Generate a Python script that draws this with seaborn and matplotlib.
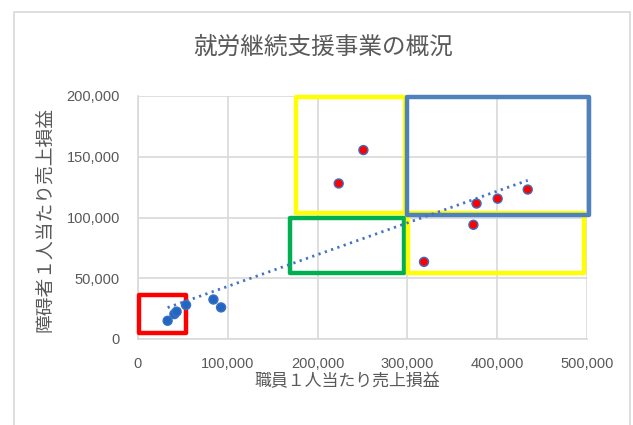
import matplotlib
matplotlib.use("Agg")
import matplotlib.pyplot as plt
from matplotlib.patches import Rectangle
from matplotlib.ticker import FuncFormatter, MultipleLocator
import seaborn as sns
import pandas as pd

# ---- data ----
staff_sales = [33000, 40500, 43000, 53500, 84000, 92500,
               251000, 223500, 377000, 400500, 434000, 373500, 318500]
disabled_sales = [15000, 20500, 22500, 28000, 32500, 26000,
                  155500, 128000, 111500, 115500, 123000, 94000, 63500]
group = ["low"] * 6 + ["high"] * 7

title = "就労継続支援事業の概況"
xlabel = "職員１人当たり売上損益"
ylabel = "障碍者１人当たり売上損益"

# highlight boxes: (x0, y0, x1, y1, colour)
box_x0 = [176000, 169000, 300500, 800, 299500]
box_y0 = [103500, 54500, 54500, 5000, 102000]
box_x1 = [297000, 296500, 496500, 54000, 502000]
box_y1 = [199500, 99800, 103500, 36000, 199500]
box_colors = ["#FFFF00", "#00B050", "#FFFF00", "#FF0000", "#4F81BD"]

df = pd.DataFrame({"x": staff_sales, "y": disabled_sales, "g": group})

sns.set_theme(style="white")
plt.rcParams["font.family"] = ["Noto Sans CJK JP", "DejaVu Sans"]

fig = plt.figure(figsize=(6.33, 4.25), dpi=100)
ax = fig.add_axes([138 / 633, 1 - 339 / 425, 449 / 633, 243 / 425])

txt = "#595959"
grid_c = "#D9D9D9"

# boxes
for x0, y0, x1, y1, c in zip(box_x0, box_y0, box_x1, box_y1, box_colors):
    ax.add_patch(Rectangle((x0, y0), x1 - x0, y1 - y0, fill=False,
                           edgecolor=c, linewidth=3.2, clip_on=False,
                           zorder=4, joinstyle="round"))

# trend line over all points
sns.regplot(data=df, x="x", y="y", ax=ax, scatter=False, ci=None,
            truncate=True,
            line_kws=dict(color="#4472C4", linewidth=2,
                          linestyle=(0, (0.8, 1.6)), zorder=5))

sns.scatterplot(data=df, x="x", y="y", hue="g", ax=ax,
                palette={"low": "#2266C4", "high": "#FF0000"},
                edgecolor="#3B6FC0", linewidth=1.0, s=42, legend=False,
                zorder=6)

ax.set_xlim(0, 500000)
ax.set_ylim(0, 200000)
ax.xaxis.set_major_locator(MultipleLocator(100000))
ax.yaxis.set_major_locator(MultipleLocator(50000))
fmt = FuncFormatter(lambda v, p: f"{int(v):,}")
ax.xaxis.set_major_formatter(fmt)
ax.yaxis.set_major_formatter(fmt)
ax.grid(True, color=grid_c, linewidth=1.2)
ax.set_axisbelow(True)
for s in ["top", "right"]:
    ax.spines[s].set_visible(False)
for s in ["left", "bottom"]:
    ax.spines[s].set_color(grid_c)
    ax.spines[s].set_linewidth(1.2)
ax.tick_params(axis="both", length=0, colors=txt, labelsize=10.5)
ax.tick_params(axis="x", pad=13)
ax.tick_params(axis="y", pad=13)
for lab in ax.get_xticklabels() + ax.get_yticklabels():
    lab.set_fontfamily(["Liberation Sans", "DejaVu Sans"])

ax.set_xlabel(xlabel, color=txt, fontsize=12.2, va="center", ha="center")
ax.set_ylabel(ylabel, color=txt, fontsize=13.5, va="center", ha="center")
ax.xaxis.set_label_coords((347 - 138) / 449, (339 - 381) / 243)
ax.yaxis.set_label_coords((45 - 138) / 449, (339 - 219) / 243)

fig.text(323 / 633, 1 - 47 / 425, title, ha="center", va="center",
         color=txt, fontsize=17)

# outer chart border
fig.patches.append(Rectangle((14 / 633, -0.05), (630 - 14) / 633,
                             1 - 12 / 425 + 0.05, transform=fig.transFigure,
                             fill=False, edgecolor=grid_c, linewidth=1.2))

fig.savefig("out.png", dpi=100)
